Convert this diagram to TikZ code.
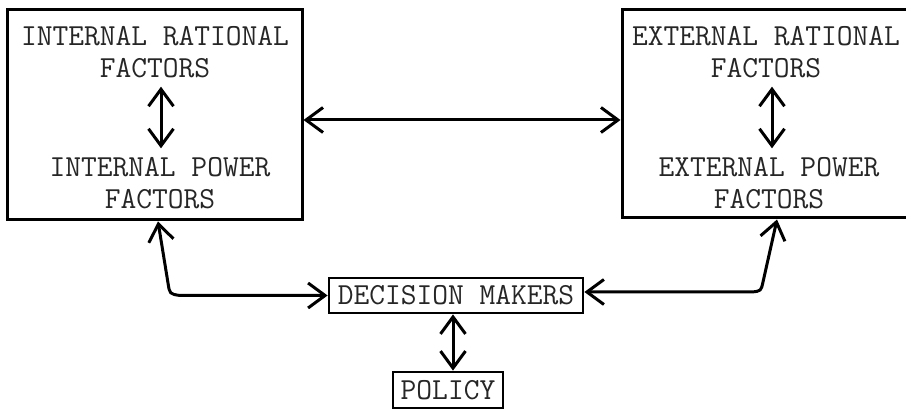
\documentclass[tikz,border=0pt]{standalone}
\usetikzlibrary{arrows.meta}
\begin{document}
\begin{tikzpicture}[x=1pt,y=-1pt,
  label/.style={inner sep=0pt, align=center, text=black!85,
    font=\ttfamily\fontsize{30.6}{31.5}\selectfont},
  bigbox/.style={draw, line width=3pt, inner sep=0pt},
  smallbox/.style={draw, line width=2.8pt, inner sep=0pt, text=black!85,
    font=\ttfamily\fontsize{30.6}{31.5}\selectfont},
  dbl/.style={line width=3pt, line cap=round, line join=round,
    {Straight Barb[length=17pt,width=25pt,line width=3pt]}-{Straight Barb[length=17pt,width=25pt,line width=3pt]}}]
\useasboundingbox (0,0) rectangle (906,411);
\clip (0,0) rectangle (906,411);

% the two large factor boxes
\node[bigbox, minimum width=295pt, minimum height=210pt] (lbox) at (154.5,115) {};
\node[bigbox, minimum width=303pt, minimum height=208pt] (rbox) at (773.5,114) {};

% labels inside the boxes
\node[label] (irf) at (155,52) {INTERNAL RATIONAL\\FACTORS};
\node[label] (ipf) at (160,183) {INTERNAL POWER\\FACTORS};
\node[label] (erf) at (766,52) {EXTERNAL RATIONAL\\FACTORS};
\node[label] (epf) at (769,183) {EXTERNAL POWER\\FACTORS};

% lower boxes
\node[smallbox, minimum width=254pt, minimum height=35pt] (dm) at (456,295.5) {DECISION MAKERS};
\node[smallbox, minimum width=110pt, minimum height=36pt] (pol) at (448,390) {POLICY};

% links inside the boxes
\draw[dbl] ([xshift=6pt,yshift=-9pt]irf.south) -- ([xshift=1pt,yshift=9pt]ipf.north);
\draw[dbl] ([xshift=6pt,yshift=-9pt]erf.south) -- ([xshift=3pt,yshift=9pt]epf.north);

% link between the factor boxes
\draw[dbl] ([yshift=-5pt]lbox.east) -- ([yshift=-6pt]rbox.west);

% links from the factor boxes to the decision makers
\draw[dbl] ([xshift=3.5pt]lbox.south) -- (168,283) .. controls (169.7,294) .. (180,295.5) -- (dm.west);
\draw[dbl] ([xshift=3.5pt]rbox.south) -- (763,282) .. controls (761,291) .. (752,292) -- ([yshift=3.5pt]dm.east);

% decision makers to policy
\draw[dbl] ([xshift=-3pt]dm.south) -- ([xshift=5pt]pol.north);
\end{tikzpicture}
\end{document}
